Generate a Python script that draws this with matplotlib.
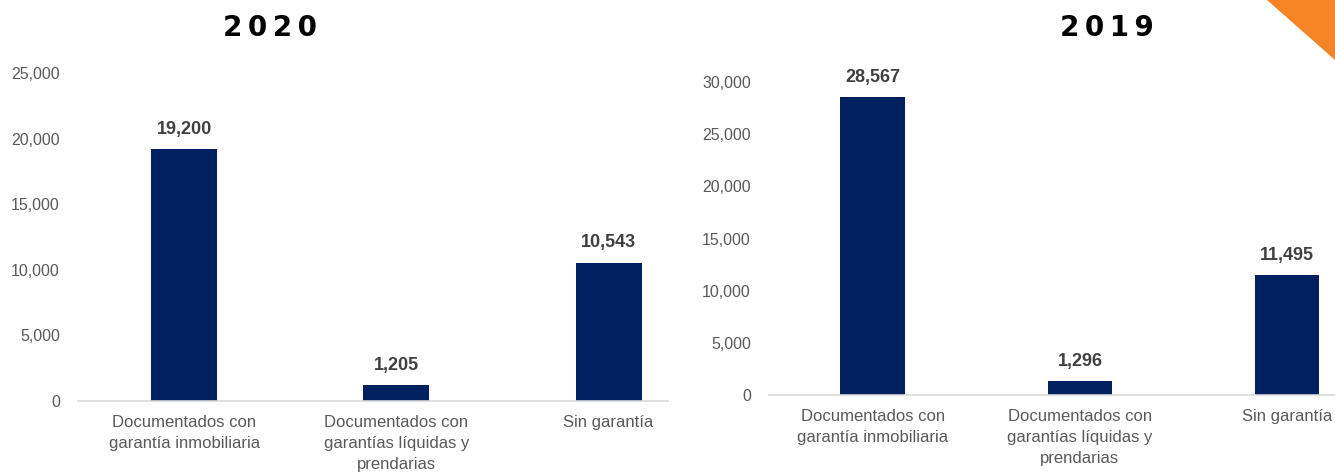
import matplotlib.pyplot as plt
from matplotlib.patches import Polygon

# Datos
categorias = ['Documentados con\ngarantía inmobiliaria',
              'Documentados con\ngarantías líquidas y\nprendarias',
              'Sin garantía']
valores_2020 = [19200, 1205, 10543]
valores_2019 = [28567, 1296, 11495]
ticks_2020 = [0, 5000, 10000, 15000, 20000, 25000]
ticks_2019 = [0, 5000, 10000, 15000, 20000, 25000, 30000]

azul = '#002060'
gris = '#595959'
fuente = ['Liberation Sans', 'DejaVu Sans']

fig = plt.figure(figsize=(13.35, 4.74), dpi=100)
fig.patch.set_facecolor('white')


def grafico(ax, valores, ticks, xlim):
    x = range(len(categorias))
    ax.bar(x, valores, width=0.31, color=azul)
    ax.set_xlim(*xlim)
    ax.set_ylim(0, ticks[-1])
    ax.set_yticks(ticks)
    ax.set_yticklabels(['{:,}'.format(t) for t in ticks], family=fuente,
                       fontsize=11.5, color=gris)
    ax.set_xticks(list(x))
    ax.set_xticklabels(categorias, family=fuente, fontsize=12, color=gris,
                       linespacing=1.5)
    ax.tick_params(axis='both', length=0)
    ax.tick_params(axis='x', pad=10)
    ax.tick_params(axis='y', pad=13)
    for s in ['top', 'right', 'left']:
        ax.spines[s].set_visible(False)
    ax.spines['bottom'].set_color('#d9d9d9')
    ax.spines['bottom'].set_linewidth(1.2)
    for i, v in enumerate(valores):
        ax.annotate('{:,}'.format(v), (i, v), xytext=(0, 11),
                    textcoords='offset points', ha='center', va='baseline',
                    family=fuente, fontsize=13, fontweight='bold',
                    color='#404040')


ax1 = fig.add_axes([0.0584, 0.154, 0.442, 0.692])
grafico(ax1, valores_2020, ticks_2020, (-0.5, 2.28))

ax2 = fig.add_axes([0.576, 0.1667, 0.424, 0.660])
grafico(ax2, valores_2019, ticks_2019, (-0.5, 2.23))

# Títulos por año
fig.text(270 / 1335, 1 - 28 / 474, '\u2009'.join('2020'), ha='center',
         va='center', fontsize=20, fontweight='bold', color='black')
fig.text(1107 / 1335, 1 - 28 / 474, '\u2009'.join('2019'), ha='center',
         va='center', fontsize=20, fontweight='bold', color='black')

# Esquina naranja
fig.patches.append(Polygon([(1267 / 1335, 1), (1, 1), (1, 1 - 60 / 474)],
                           closed=True, transform=fig.transFigure,
                           facecolor='#F58426', edgecolor='none'))

plt.savefig('out.png', dpi=100)
